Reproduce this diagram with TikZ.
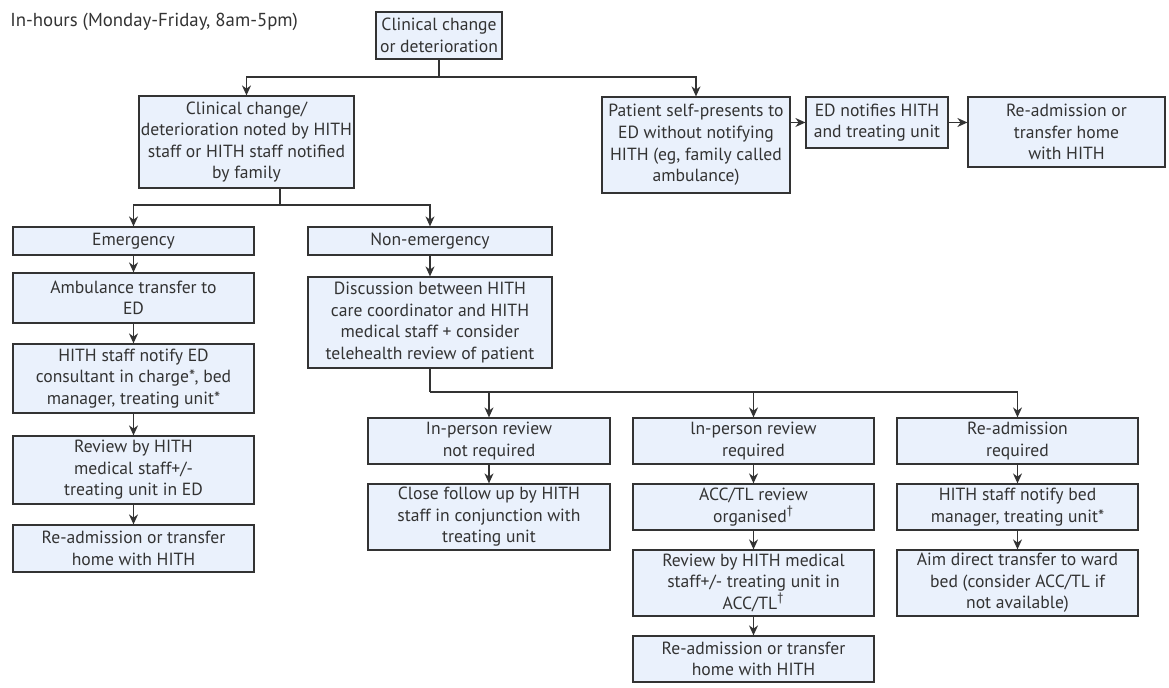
\documentclass[tikz,border=0pt]{standalone}
\usepackage{fontspec}
\setmainfont{PT Sans}
\usepackage{xcolor}
\usetikzlibrary{positioning,arrows.meta}
\definecolor{boxfill}{HTML}{EAF1FC}
\definecolor{boxline}{HTML}{333333}
\tikzset{
	flowtext/.style={font=\fontsize{8.8}{10.8}\selectfont, text=black!80},
	flowbox/.style={flowtext, draw=boxline, fill=boxfill, line width=0.6pt, align=center, inner sep=1pt},
	boxsize/.style 2 args={minimum width=#1*0.5pt, minimum height=#2*0.5pt},
	flowline/.style={draw=boxline, line width=0.6pt},
	flowarrow/.style={flowline, -{Stealth[length=5pt,width=4.5pt]}}
}
\begin{document}
\begin{tikzpicture}[x=0.5pt, y=-0.5pt]
	\fill[white] (0,0) rectangle (1169,688);
	\node[flowtext, anchor=west, inner sep=0pt, font=\fontsize{9.4}{10.8}\selectfont] (title) at (10,22) {In-hours (Monday-Friday, 8am-5pm)};
	\node[flowbox, boxsize={126}{47}] (change) at (439,35.5) {Clinical change\\or deterioration};
	\node[flowbox, boxsize={209}{92}] (noted) at (246.5,142) {Clinical change/\\deterioration noted by HITH\\staff or HITH staff notified\\by family};
	\node[flowbox, boxsize={188}{96}] (selfpres) at (696,145) {Patient self-presents to\\ED without notifying\\HITH (eg, family called\\ambulance)};
	\node[flowbox, boxsize={142}{51}] (ednotify) at (877,122.5) {ED notifies HITH\\and treating unit};
	\node[flowbox, boxsize={197}{70}] (edreadmit) at (1066.5,132) {Re-admission or\\transfer home\\with HITH};
	\node[flowbox, boxsize={241}{28}] (emerg) at (133.5,241) {Emergency};
	\node[flowbox, boxsize={241}{50}] (ambulance) at (133.5,298) {Ambulance transfer to\\ED};
	\node[flowbox, boxsize={241}{69}] (hithnotify) at (133.5,378.5) {HITH staff notify ED\\consultant in charge*, bed\\manager, treating unit*};
	\node[flowbox, boxsize={241}{68}] (edreview) at (133.5,470) {Review by HITH\\medical staff+/-\\treating unit in ED};
	\node[flowbox, boxsize={241}{47}] (emreadmit) at (133.5,548.5) {Re-admission or transfer\\home with HITH};
	\node[flowbox, boxsize={244}{28}] (nonemerg) at (430,241) {Non-emergency};
	\node[flowbox, boxsize={244}{91}] (discuss) at (430,322.5) {Discussion between HITH\\care coordinator and HITH\\medical staff + consider\\telehealth review of patient};
	\node[flowbox, boxsize={242}{46}] (noreview) at (489,441) {In-person review\\not required};
	\node[flowbox, boxsize={242}{66}] (followup) at (489,517) {Close follow up by HITH\\staff in conjunction with\\treating unit};
	\node[flowbox, boxsize={241}{46}] (inreview) at (753.5,441) {ln-person review\\required};
	\node[flowbox, boxsize={241}{46}] (accorg) at (753.5,507) {ACC/TL review\\organised\textsuperscript{†}};
	\node[flowbox, boxsize={241}{66}] (accreview) at (753.5,583) {Review by HITH medical\\staff+/- treating unit in\\ACC/TL\textsuperscript{†}};
	\node[flowbox, boxsize={241}{46}] (accreadmit) at (753.5,659) {Re-admission or transfer\\home with HITH};
	\node[flowbox, boxsize={241}{46}] (readmit) at (1017.5,441) {Re-admission\\required};
	\node[flowbox, boxsize={241}{46}] (bednotify) at (1017.5,507) {HITH staff notify bed\\manager, treating unit*};
	\node[flowbox, boxsize={241}{66}] (direct) at (1017.5,583) {Aim direct transfer to ward\\bed (consider ACC/TL if\\not available)};
	\coordinate (splittop) at (439,77);
	\coordinate (splitnoted) at (280,205);
	\coordinate (splitdiscuss) at (430,392);
	\draw[flowline] (change) -- (splittop);
	\draw[flowarrow] (splittop) -| (noted.north);
	\draw[flowarrow] (splittop) -| (selfpres.north);
	\draw[flowarrow] (selfpres.east |- ednotify.west) -- (ednotify.west);
	\draw[flowarrow] (ednotify.east) -- (ednotify.east -| edreadmit.west);
	\draw[flowline] (noted.south -| splitnoted) -- (splitnoted);
	\draw[flowarrow] (splitnoted) -| (emerg.north);
	\draw[flowarrow] (splitnoted) -| (nonemerg.north);
	\draw[flowarrow] (emerg) -- (ambulance);
	\draw[flowarrow] (ambulance) -- (hithnotify);
	\draw[flowarrow] (hithnotify) -- (edreview);
	\draw[flowarrow] (edreview) -- (emreadmit);
	\draw[flowarrow] (nonemerg) -- (discuss);
	\draw[flowline] (discuss) -- (splitdiscuss);
	\draw[flowarrow] (splitdiscuss) -| (noreview.north);
	\draw[flowarrow] (splitdiscuss) -| (inreview.north);
	\draw[flowarrow] (splitdiscuss) -| (readmit.north);
	\draw[flowarrow] (noreview) -- (followup);
	\draw[flowarrow] (inreview) -- (accorg);
	\draw[flowarrow] (accorg) -- (accreview);
	\draw[flowarrow] (accreview) -- (accreadmit);
	\draw[flowarrow] (readmit) -- (bednotify);
	\draw[flowarrow] (bednotify) -- (direct);
\end{tikzpicture}
\end{document}
